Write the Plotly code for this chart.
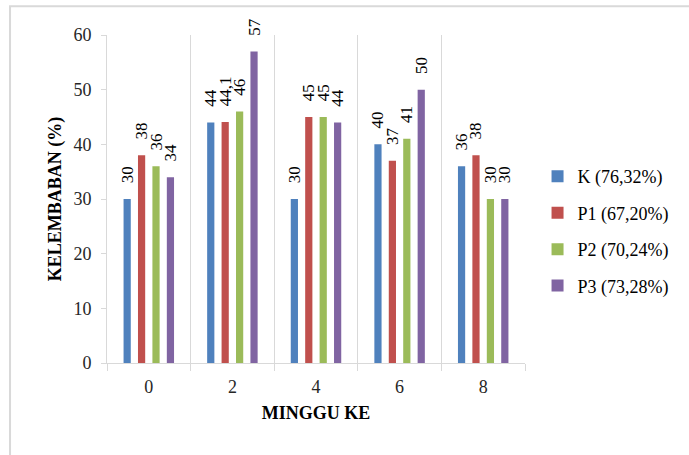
import plotly.graph_objects as go

weeks = ["0", "2", "4", "6", "8"]
series_names = ["K (76,32%)", "P1 (67,20%)", "P2 (70,24%)", "P3 (73,28%)"]
k_vals = [30, 44, 30, 40, 36]
p1_vals = [38, 44.1, 45, 37, 38]
p2_vals = [36, 46, 45, 41, 30]
p3_vals = [34, 57, 44, 50, 30]
colors = ["#4F81BD", "#C0504D", "#9BBB59", "#8064A2"]
y_ticks = [0, 10, 20, 30, 40, 50, 60]

FONT = "Liberation Serif, Times New Roman, serif"
GRID = "#d9d9d9"


def fmt(v):
    s = ("%g" % v).replace(".", ",")
    return "\u00a0\u00a0\u00a0" + s


fig = go.Figure()
for name, vals, col in zip(series_names, [k_vals, p1_vals, p2_vals, p3_vals], colors):
    fig.add_trace(go.Bar(
        x=weeks, y=vals, name=name, legendgroup=name,
        marker=dict(color=col, line=dict(width=0)),
        text=[fmt(v) for v in vals],
        textposition="outside", textangle=-90,
        constraintext="none", cliponaxis=False,
        textfont=dict(family=FONT, size=17, color="#000000"),
        hoverinfo="x+y+name",
    ))

fig.update_layout(
    width=689, height=455,
    margin=dict(l=107, r=164, t=35, b=92, autoexpand=False),
    paper_bgcolor="white", plot_bgcolor="white",
    barmode="group", bargap=0.31, bargroupgap=0.5,
    font=dict(family=FONT, size=18, color="#262626"),
    showlegend=True,
    legend=dict(x=1.03, xanchor="left", y=0.402, yanchor="middle",
                font=dict(family=FONT, size=18, color="#000000"),
                tracegroupgap=10, bgcolor="rgba(0,0,0,0)"),
    xaxis=dict(
        type="category", tickson="boundaries", automargin=False,
        showgrid=True, gridcolor=GRID, gridwidth=1,
        showline=True, linecolor=GRID, linewidth=1,
        ticks="outside", ticklen=7, tickcolor=GRID,
        tickfont=dict(family=FONT, size=18, color="#262626"),
        ticklabelstandoff=7,
        title=dict(text="<b>MINGGU KE</b>", standoff=10,
                   font=dict(family=FONT, size=18, color="#000000")),
    ),
    yaxis=dict(
        range=[0, 60], tickvals=y_ticks, automargin=False,
        showgrid=False, zeroline=False,
        showline=True, linecolor=GRID, linewidth=1,
        ticks="outside", ticklen=5, tickcolor=GRID,
        tickfont=dict(family=FONT, size=18, color="#262626"),
        ticklabelstandoff=6,
        title=dict(text="<b>KELEMBABAN (%)</b>", standoff=7,
                   font=dict(family=FONT, size=18, color="#000000")),
    ),
    shapes=[dict(type="rect", xref="paper", yref="paper",
                 x0=-0.232, x1=1.45, y0=-0.35, y1=1.088,
                 line=dict(color=GRID, width=2), fillcolor="rgba(0,0,0,0)",
                 layer="below")],
)

fig.write_html("out.html",
               config={"displayModeBar": False},
               post_script="document.body.style.margin='0';document.body.style.overflow='hidden';")
